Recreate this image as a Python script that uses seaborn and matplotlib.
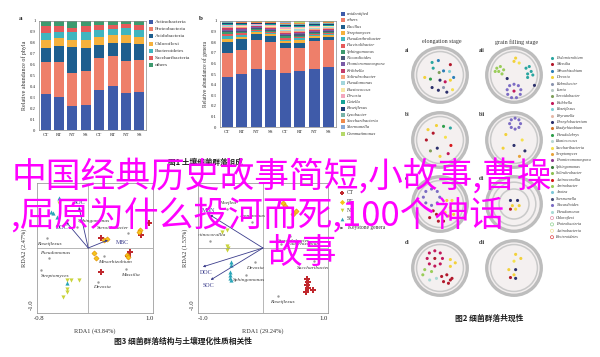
import numpy as np
import matplotlib
matplotlib.use("Agg")
import matplotlib.pyplot as plt
import seaborn as sns
from matplotlib.patches import Circle

sns.set_theme(style="white")
plt.rcParams["font.family"] = ["Liberation Serif", "Noto Sans CJK SC", "DejaVu Sans"]
CJK = ["Noto Sans CJK SC", "DejaVu Sans"]

# ---------- 图1 a: phyla ----------
samples = ["CT", "RT", "NT", "SS", "CT", "RT", "NT", "SS"]
phyla = ["Actinobacteria", "Proteobacteria", "Acidobacteria", "Chloroflexi",
         "Bacteroidetes", "Saccharibacteria", "others"]
phyla_colors = ["#3F5BA9", "#EE7F6A", "#1E5E8E", "#F5B13C", "#40B5BF", "#E55A5A", "#3D9A6E"]
actino = [0.33, 0.30, 0.22, 0.23, 0.37, 0.40, 0.34, 0.35]
proteo = [0.29, 0.32, 0.30, 0.31, 0.29, 0.28, 0.29, 0.29]
acido = [0.13, 0.15, 0.24, 0.21, 0.12, 0.12, 0.17, 0.15]
chloro = [0.08, 0.07, 0.07, 0.08, 0.07, 0.07, 0.07, 0.06]
bactero = [0.06, 0.06, 0.07, 0.07, 0.07, 0.06, 0.07, 0.07]
saccha = [0.06, 0.05, 0.04, 0.05, 0.04, 0.03, 0.03, 0.04]
other_phyla = [0.05, 0.05, 0.06, 0.05, 0.04, 0.04, 0.03, 0.04]

# ---------- 图1 b: genera ----------
genera = ["unidentified", "others", "Bacillus", "Streptomyces", "Pseudarthrobacter",
          "Flavisolibacter", "Sphingomonas", "Nocardioides", "Promicromonospora",
          "Kribbella", "Solirubrobacter", "Pseudomonas", "Blastococcus", "Devosia",
          "Gaiella", "Roseiflexus", "Lysobacter", "Saccharibacteria", "Skermanella",
          "Gemmatimonas"]
genera_colors = ["#3F5BA9", "#EE7F6A", "#1E5E8E", "#F5B13C", "#40B5BF", "#E55A5A",
                 "#3D9A6E", "#4A5878", "#7A5BA6", "#C43C6A", "#F6A47E", "#A3D6DC",
                 "#F7E7A6", "#F3A8BE", "#14A396", "#1F3F76", "#79B3A7", "#F08B4B",
                 "#8AAAD6", "#B5D96A"]
g_unid = [0.47, 0.50, 0.55, 0.54, 0.51, 0.53, 0.55, 0.57]
g_other = [0.23, 0.23, 0.27, 0.26, 0.24, 0.22, 0.26, 0.25]
g_bacil = [0.10, 0.10, 0.06, 0.06, 0.04, 0.04, 0.03, 0.03]
g_strep = [0.030, 0.020, 0.015, 0.015, 0.020, 0.030, 0.015, 0.015]
g_pseuda = [0.030, 0.020, 0.010, 0.010, 0.015, 0.015, 0.012, 0.010]
g_flavi = [0.020, 0.015, 0.010, 0.010, 0.015, 0.012, 0.010, 0.010]
g_sphin = [0.015, 0.015, 0.010, 0.010, 0.015, 0.015, 0.012, 0.012]
g_nocar = [0.012, 0.010, 0.008, 0.010, 0.012, 0.012, 0.010, 0.010]
g_promi = [0.012, 0.010, 0.008, 0.008, 0.012, 0.012, 0.010, 0.010]
g_kribb = [0.012, 0.010, 0.008, 0.008, 0.012, 0.012, 0.010, 0.008]
g_solir = [0.010, 0.010, 0.006, 0.008, 0.012, 0.012, 0.010, 0.008]
g_pseum = [0.008, 0.008, 0.005, 0.008, 0.012, 0.010, 0.008, 0.008]
g_blast = [0.008, 0.008, 0.005, 0.008, 0.012, 0.010, 0.008, 0.008]
g_devos = [0.008, 0.008, 0.005, 0.008, 0.012, 0.010, 0.008, 0.008]
g_gaiel = [0.008, 0.008, 0.005, 0.008, 0.012, 0.010, 0.008, 0.008]
g_roseo = [0.008, 0.006, 0.005, 0.006, 0.010, 0.010, 0.008, 0.008]
g_lysob = [0.006, 0.006, 0.005, 0.006, 0.010, 0.010, 0.008, 0.008]
g_sacch = [0.006, 0.006, 0.005, 0.006, 0.010, 0.008, 0.006, 0.006]
g_skerm = [0.004, 0.006, 0.005, 0.006, 0.008, 0.006, 0.005, 0.005]
g_gemma = [0.003, 0.004, 0.005, 0.005, 0.011, 0.016, 0.012, 0.008]

# ---------- 图2: co-occurrence networks ----------
net_names = ["Pedomicrobium", "Massilia", "Mesorhizobium", "Devosia", "Rubrobacter",
             "Iamia", "Steroidobacter", "Kribbella", "Roseiflexus", "Reyranella",
             "Phenylobacterium", "Bradyrhizobium", "Pseudolabrys", "Blastococcus",
             "Saccharibacteria", "Streptomyces", "Promicromonospora", "Sphingomonas",
             "Solirubrobacter", "Actinocorallia", "Aminobacter", "Azotea", "Skermanella",
             "Nocardioides", "Pseudomonas", "Chloroflexi", "Proteobacteria",
             "Actinobacteria", "Bacteroidetes"]
net_colors = ["#2AA6A0", "#B2182B", "#2C7FB8", "#F2D13A", "#8C96B0", "#B8C9C4",
              "#7FA05A", "#C2185B", "#7FCFD6", "#E5B9A8", "#2B2F6B", "#D2772D",
              "#2E9E4A", "#B9D7D3", "#F4E04D", "#E8A33A", "#8E3A8E", "#3B7D3B",
              "#8CC152", "#D7191C", "#9ACD5A", "#7EC8D8", "#4A4E7A", "#7C6CC4",
              "#A8DAD5", "#E58FA8", "#8FD18F", "#EFE39A", "#E04040"]

ai_x = [-0.29, -0.06, 0.38, -0.25, 0.13, -0.03, 0.35, -0.56, -0.35, 0.0, 0.38, 0.5, -0.29, -0.06, 0.13, 0.25, 0.46, 0.19]
ai_y = [0.46, 0.53, 0.38, 0.25, 0.15, 0.09, 0.13, -0.09, -0.15, -0.19, -0.19, -0.09, -0.46, -0.56, -0.46, -0.63, -0.54, -0.25]
ai_g = ["Pedomicrobium", "Mesorhizobium", "Massilia", "Pedomicrobium", "Mesorhizobium",
        "Steroidobacter", "Roseiflexus", "Devosia", "Pseudolabrys", "Phenylobacterium",
        "Devosia", "Mesorhizobium", "Phenylobacterium", "Phenylobacterium", "Rubrobacter",
        "Phenylobacterium", "Saccharibacteria", "Kribbella"]

aii_x = [-0.63, -0.5, -0.38, -0.56, -0.44, -0.69, 0.0, 0.19, 0.06, 0.44, 0.56, 0.63, 0.5, 0.69, 0.5,
         -0.25, 0.75, 0.0, 0.16, 0.25, 0.23, 0.09, -0.09, -0.23, -0.25, -0.16, 0.0]
aii_y = [0.25, 0.31, 0.19, 0.13, 0.04, 0.13, 0.5, 0.44, 0.62, 0.25, 0.31, 0.13, 0.04, 0.0, -0.09,
         -0.13, -0.38, -0.34, -0.39, -0.54, -0.71, -0.83, -0.83, -0.71, -0.54, -0.39, -0.59]
aii_g = ["Aminobacter"] * 6 + ["Devosia", "Saccharibacteria", "Devosia"] + ["Pedomicrobium"] * 6 + \
        ["Phenylobacterium", "Phenylobacterium"] + ["Nocardioides"] * 9 + ["Kribbella"]

bi_x = [-0.44, -0.13, 0.13, 0.38, -0.25, -0.5, 0.2, -0.1, 0.4, 0.0, -0.35, 0.3]
bi_y = [0.38, 0.53, 0.5, 0.44, 0.25, 0.0, 0.1, -0.3, -0.2, -0.6, -0.4, -0.5]
bi_g = ["Devosia", "Devosia", "Pseudolabrys", "Pedomicrobium", "Massilia", "Massilia",
        "Saccharibacteria", "Phenylobacterium", "Actinocorallia", "Devosia", "Steroidobacter", "Kribbella"]

bii_x = [0.04, 0.18, 0.24, 0.18, 0.04, -0.1, -0.16, -0.1, -0.3, 0.3, 0.0, 0.4, -0.4, 0.2]
bii_y = [0.8, 0.74, 0.6, 0.46, 0.4, 0.46, 0.6, 0.74, 0.2, 0.0, -0.2, -0.4, -0.3, -0.6]
bii_g = ["Nocardioides"] * 8 + ["Devosia", "Saccharibacteria", "Phenylobacterium",
                                "Phenylobacterium", "Devosia", "Streptomyces"]

ci_x = [-0.31, -0.1, -0.01, -0.1, -0.31, -0.52, -0.61, -0.52, 0.25, 0.44, 0.38, 0.19, 0.5, 0.31,
        -0.25, -0.13, -0.38, -0.06, 0.13]
ci_y = [0.55, 0.46, 0.25, 0.04, -0.05, 0.04, 0.25, 0.46, 0.13, 0.13, -0.13, -0.31, -0.38, -0.44,
        -0.25, -0.38, -0.5, -0.63, -0.63]
ci_g = ["Nocardioides"] * 8 + ["Devosia", "Saccharibacteria", "Devosia", "Saccharibacteria",
                               "Devosia", "Streptomyces"] + ["Massilia"] * 5

cii_x = [-0.13, 0.13, -0.06, 0.19, -0.13, 0.06]
cii_y = [0.13, 0.13, -0.06, -0.06, -0.19, -0.19]
cii_g = ["Phenylobacterium", "Phenylobacterium", "Devosia", "Devosia", "Massilia", "Saccharibacteria"]

di_x = [-0.19, 0.01, 0.09, 0.01, -0.19, -0.39, -0.47, -0.39, -0.19, 0.38, 0.56, 0.38,
        -0.56, -0.31, -0.63, -0.13, -0.38, 0.06, 0.25, 0.44, 0.13, 0.31, 0.38]
di_y = [0.63, 0.55, 0.35, 0.15, 0.07, 0.15, 0.35, 0.55, 0.35, 0.31, 0.19, 0.06,
        -0.06, -0.13, -0.25, -0.38, -0.44, -0.31, -0.25, -0.38, -0.5, -0.56, -0.44]
di_g = ["Kribbella"] * 8 + ["Massilia"] + ["Devosia"] * 3 + ["Aminobacter"] * 3 + \
       ["Pseudomonas"] * 2 + ["Massilia"] * 6

dii_x = [0.06, 0.25, 0.0, -0.19, 0.06, 0.0, -0.13, 0.06]
dii_y = [0.5, 0.35, 0.25, -0.06, -0.06, -0.25, -0.35, -0.38]
dii_g = ["Devosia", "Devosia", "Saccharibacteria", "Devosia", "Phenylobacterium",
         "Devosia", "Massilia", "Phenylobacterium"]

# ---------- 图3: RDA ----------
l_ct_x = [0.98, 0.86, 0.20, 0.68, 0.64, 0.20]
l_ct_y = [0.44, 0.23, 0.17, -0.07, -0.14, -0.42]
l_rt_x = [0.84, 0.82, 0.25, 0.30, 0.10, 0.12, 0.63, 0.65]
l_rt_y = [0.32, 0.28, 0.14, 0.16, -0.09, -0.17, -0.12, -0.15]
l_nt_x = [-0.47, -0.35, -0.28, -0.15, -0.35, -0.34, -0.41]
l_nt_y = [0.79, -0.56, -0.56, -0.56, -0.72, -0.77, -0.86]
l_ss_x = [-0.47, -0.61, -0.57, -0.51, -0.35]
l_ss_y = [0.88, 0.63, 0.61, 0.54, -0.61]
l_gen = ["Sphingomonas", "Steroidobacter", "Roseiflexus", "Pseudomonas", "Streptomyces",
         "Mesorhizobium", "Massilia", "Devosia"]
l_gen_x = [-0.18, 0.65, -0.66, -0.64, -0.77, 0.26, 0.61, 0.16]
l_gen_y = [0.37, 0.26, 0.18, -0.18, -0.38, -0.14, -0.37, -0.60]
l_env = ["SOC", "DOC", "MBC"]
l_env_x = [-0.15, -0.36, 0.32]
l_env_y = [0.72, 0.46, 0.14]

r_ct_x = [0.73, 0.75, 0.73, 0.75, 0.72, 0.83]
r_ct_y = [-0.54, -0.59, -0.65, -0.70, -0.77, -0.74]
r_rt_x = [0.33, 0.36, 0.50, 0.55]
r_rt_y = [0.79, 0.74, 0.60, 0.65]
r_nt_x = [-0.68, -0.60, -0.60, -0.58, -0.60]
r_nt_y = [0.28, 0.32, 0.04, 0.00, -0.04]
r_ss_x = [-0.53, -0.53, -0.55, -0.55, -0.55, -0.53]
r_ss_y = [-0.25, -0.30, -0.42, -0.47, -0.52, -0.56]
r_gen = ["Hoeflea", "Arenimonas", "Actinocorallia", "Devosia", "Sphingomonas",
         "Roseiflexus", "Bradyrhizobium", "Steroidobacter", "Saccharibacteria"]
r_gen_x = [-0.59, -0.18, -0.88, -0.13, -0.28, 0.25, 0.30, 0.45, 0.85]
r_gen_y = [0.68, 0.46, 0.12, -0.25, -0.47, -0.84, 0.07, 0.21, -0.23]
r_env = ["MBN", "DOC", "SOC"]
r_env_x = [-0.88, -1.00, -0.87]
r_env_y = [0.58, -0.33, -0.56]

title_lines = ["中国经典历史故事简短,小故事,曹操", ",屈原为什么投河而死,100个神话", "故事"]


def box(l, t, r, b):
    return [l / 600, 1 - b / 357, (r - l) / 600, (b - t) / 357]


fig = plt.figure(figsize=(6, 3.57), dpi=100)
fig.patch.set_facecolor("white")
ov = fig.add_axes([0, 0, 1, 1])
ov.set_xlim(0, 600)
ov.set_ylim(357, 0)
ov.axis("off")

SPINE = "#8a8a8a"


def frame(ax):
    for s in ax.spines.values():
        s.set_color(SPINE)
        s.set_linewidth(0.5)
    ax.tick_params(length=1.5, width=0.4, color=SPINE, pad=1)


def stacked(ax, layers, colors):
    ids = [f"{s}{i}" for i, s in enumerate(samples)]
    tops = np.cumsum(np.array(layers), axis=0)
    for top, col in zip(tops[::-1], colors[::-1]):
        sns.barplot(x=ids, y=top, color=col, width=0.74, saturation=1,
                    linewidth=0, ax=ax)
    ax.set_xlim(-0.5, 7.5)
    ax.set_ylim(0, 1)
    ax.set_xticks(range(len(samples)))
    ax.set_xticklabels(samples, fontsize=3.6)
    ticks = np.round(np.arange(0, 1.01, 0.1), 1)
    ax.set_yticks(ticks)
    ax.set_yticklabels(["0" if t == 0 else ("1" if t == 1 else f"{t:.1f}") for t in ticks],
                       fontsize=3.4)
    frame(ax)


# --- panel a
axa = fig.add_axes(box(39, 21, 146, 130))
stacked(axa, [actino, proteo, acido, chloro, bactero, saccha, other_phyla], phyla_colors)
axa.set_ylabel("Relative abundance of phyla", fontsize=4.3, labelpad=2, color="#333")
ov.text(19, 18, "a", fontsize=5, fontweight="bold", color="#222", va="center")
for i, (name, col) in enumerate(zip(phyla, phyla_colors)):
    y = 22 + i * 7.2
    ov.scatter(151, y, marker="s", s=7, color=col, linewidths=0)
    ov.text(154.5, y, name, fontsize=3.9, va="center", color="#333")

# --- panel b
axb = fig.add_axes(box(220, 21, 336, 127))
stacked(axb, [g_unid, g_other, g_bacil, g_strep, g_pseuda, g_flavi, g_sphin, g_nocar,
              g_promi, g_kribb, g_solir, g_pseum, g_blast, g_devos, g_gaiel, g_roseo,
              g_lysob, g_sacch, g_skerm, g_gemma], genera_colors)
axb.set_ylabel("Relative abundance of genera", fontsize=4.0, labelpad=2, color="#333")
ov.text(199, 18, "b", fontsize=5, fontweight="bold", color="#222", va="center")
for i, (name, col) in enumerate(zip(genera, genera_colors)):
    y = 14 + i * 6.3
    ov.scatter(343, y, marker="s", s=6, color=col, linewidths=0)
    ov.text(346.5, y, name, fontsize=3.3, style="italic", va="center", color="#333")
ov.text(205, 162, "图1 土壤细菌群落组成", fontsize=5.5, fontweight="bold",
        family=CJK, ha="center", va="center", color="#222")

# --- networks
ov.text(442, 42, "elongation stage", fontsize=4.3, ha="center", va="center", color="#333")
ov.text(517, 42, "grain filling stage", fontsize=4.3, ha="center", va="center", color="#333")
net_pal = dict(zip(net_names, net_colors))
circles = [
    ("ai", 440, 75, ai_x, ai_y, ai_g, [0.86]),
    ("aii", 514, 75, aii_x, aii_y, aii_g, [0.86]),
    ("bi", 440, 140, bi_x, bi_y, bi_g, [0.86]),
    ("bii", 514, 140, bii_x, bii_y, bii_g, [0.86]),
    ("ci", 440, 204, ci_x, ci_y, ci_g, [0.86]),
    ("cii", 514, 204, cii_x, cii_y, cii_g, [0.8, 0.55]),
    ("di", 440, 268, di_x, di_y, di_g, [0.86]),
    ("dii", 514, 268, dii_x, dii_y, dii_g, [0.86]),
]
for lab, cx, cy, xs, ys, gs, inner in circles:
    ax = fig.add_axes(box(cx - 30, cy - 30, cx + 30, cy + 30))
    ax.set_xlim(-1.1, 1.1)
    ax.set_ylim(-1.1, 1.1)
    ax.axis("off")
    ax.add_patch(Circle((0, 0), 1.0, facecolor="#f4f0f0", edgecolor="#bdbdbd", lw=2.4))
    for r in inner:
        ax.add_patch(Circle((0, 0), r, facecolor="none", edgecolor="#c9c9c9", lw=1.1))
    sns.scatterplot(x=xs, y=ys, hue=gs, palette=net_pal, s=5, linewidth=0,
                    legend=False, ax=ax)
    ov.text(cx - 35, cy - 25, lab, fontsize=4, fontweight="bold", color="#333", va="center")

for i, (name, col) in enumerate(zip(net_names, net_colors)):
    y = 58 + i * 6.4
    if i >= 25:
        ov.scatter(552, y, marker="o", s=5, facecolor="none", edgecolor=col, linewidths=0.5)
    else:
        ov.scatter(552, y, marker="o", s=5, color=col, linewidths=0)
    ov.text(556, y, name, fontsize=3.0, style="italic", va="center", color="#333")
ov.text(489, 318, "图2 细菌群落共现性", fontsize=5.6, fontweight="bold",
        family=CJK, ha="center", va="center", color="#222")

# --- RDA plots
NAVY = "#3b3d8c"


def rda(ax, ct, rt, nt, ss, gen, env, gen_off, env_off, xlim, xticks):
    ax.set_xlim(*xlim)
    ax.set_ylim(-1.14, 1.14)
    ax.axhline(0, color="#9a9a9a", lw=0.5)
    ax.axvline(0, color="#9a9a9a", lw=0.5)
    sns.scatterplot(x=gen[1], y=gen[2], color="#9a9a9a", s=3, linewidth=0, ax=ax)
    for name, x, y, (dx, dy, ha) in zip(gen[0], gen[1], gen[2], gen_off):
        ax.annotate(name, (x, y), xytext=(dx, dy), textcoords="offset pixels",
                    fontsize=3.9, style="italic", ha=ha, va="center", color="#333",
                    annotation_clip=False, clip_on=True)
    for name, x, y, (dx, dy, ha) in zip(env[0], env[1], env[2], env_off):
        ax.annotate("", (x, y), xytext=(0, 0),
                    arrowprops=dict(arrowstyle="-|>", lw=0.6, color=NAVY, mutation_scale=3,
                                    shrinkA=0, shrinkB=0))
        ax.annotate(name, (x, y), xytext=(dx, dy), textcoords="offset pixels",
                    fontsize=4.3, ha=ha, va="center", color=NAVY)
    sns.scatterplot(x=ct[0], y=ct[1], marker="P", s=13, color="#C0282D", linewidth=0, ax=ax)
    sns.scatterplot(x=rt[0], y=rt[1], marker="D", s=7, color="#F5C518", edgecolor="#E08A00",
                    linewidth=0.4, ax=ax)
    sns.scatterplot(x=nt[0], y=nt[1], marker="v", s=9, color="#C9D33A", linewidth=0, ax=ax)
    sns.scatterplot(x=ss[0], y=ss[1], marker="^", s=9, color="#2AA5B8", linewidth=0, ax=ax)
    ax.set_xticks(xticks)
    ax.set_xticklabels([f"{t:.1f}" for t in xticks], fontsize=4.8)
    ax.set_yticks([-1.0])
    ax.set_yticklabels(["-1.0"], fontsize=4.8, rotation=90, va="center")
    frame(ax)


ax3 = fig.add_axes(box(37, 183, 153, 313))
rda(ax3, (l_ct_x, l_ct_y), (l_rt_x, l_rt_y), (l_nt_x, l_nt_y), (l_ss_x, l_ss_y),
    (l_gen, l_gen_x, l_gen_y), (l_env, l_env_x, l_env_y),
    [(1, 6, "left"), (1, 5, "right"), (2, -6, "center"), (6, 5, "center"),
     (0, -6, "left"), (-6, -6, "left"), (-5, -6, "left"), (-5, -5, "left")],
    [(0, 4, "center"), (-4, -6, "center"), (8, -2, "left")],
    (-0.83, 1.05), [-0.8, 1.0])
ax3.set_xlabel("RDA1 (43.84%)", fontsize=4.5, labelpad=5, color="#333")
ax3.set_ylabel("RDA2 (2.47%)", fontsize=4.5, labelpad=1, color="#333")

ax4 = fig.add_axes(box(198, 183, 328, 313))
rda(ax4, (r_ct_x, r_ct_y), (r_rt_x, r_rt_y), (r_nt_x, r_nt_y), (r_ss_x, r_ss_y),
    (r_gen, r_gen_x, r_gen_y), (r_env, r_env_x, r_env_y),
    [(0, 6, "center"), (0, 6, "center"), (0, 6, "center"), (-9, -6, "left"),
     (3, -5, "center"), (4, -6, "center"), (5, 0, "left"), (-12, -5, "left"), (-17, -7, "left")],
    [(-1, 4, "center"), (3, -6, "center"), (-2, -6, "center")],
    (-1.08, 1.08), [-1.0, 1.0])
ax4.set_xlabel("RDA1 (29.24%)", fontsize=4.5, labelpad=5, color="#333")
ax4.set_ylabel("RDA2 (1.53%)", fontsize=4.5, labelpad=1, color="#333")

leg = [("CT", "P", "#C0282D"), ("RT", "D", "#F5C518"), ("NT", "v", "#C9D33A"), ("SS", "^", "#2AA5B8")]
for i, (name, mk, col) in enumerate(leg):
    y = 193 + i * 8.5
    ov.scatter(342, y, marker=mk, s=7, color=col, linewidths=0)
    ov.text(346.5, y, name, fontsize=4, va="center", color="#333")
ov.annotate("", (346, 228), xytext=(338, 228),
            arrowprops=dict(arrowstyle="-|>", lw=0.5, color="#555", mutation_scale=3))
ov.text(348.5, 228, "Keystone genera", fontsize=4, va="center", color="#333")
ov.text(183, 341, "图3 细菌群落结构与土壤理化性质相关性", fontsize=5.6, fontweight="bold",
        family=CJK, ha="center", va="center", color="#222")

# --- overlaid title
for txt, x, y, ha in zip(title_lines, [12, 10, 302], [178, 216, 254], ["left", "left", "center"]):
    fig.text(x / 600, 1 - y / 357, txt, fontsize=25, color="#FF00FF", fontweight="medium",
             family=CJK, ha=ha, va="center", zorder=10)

fig.savefig("out.png", dpi=100)
